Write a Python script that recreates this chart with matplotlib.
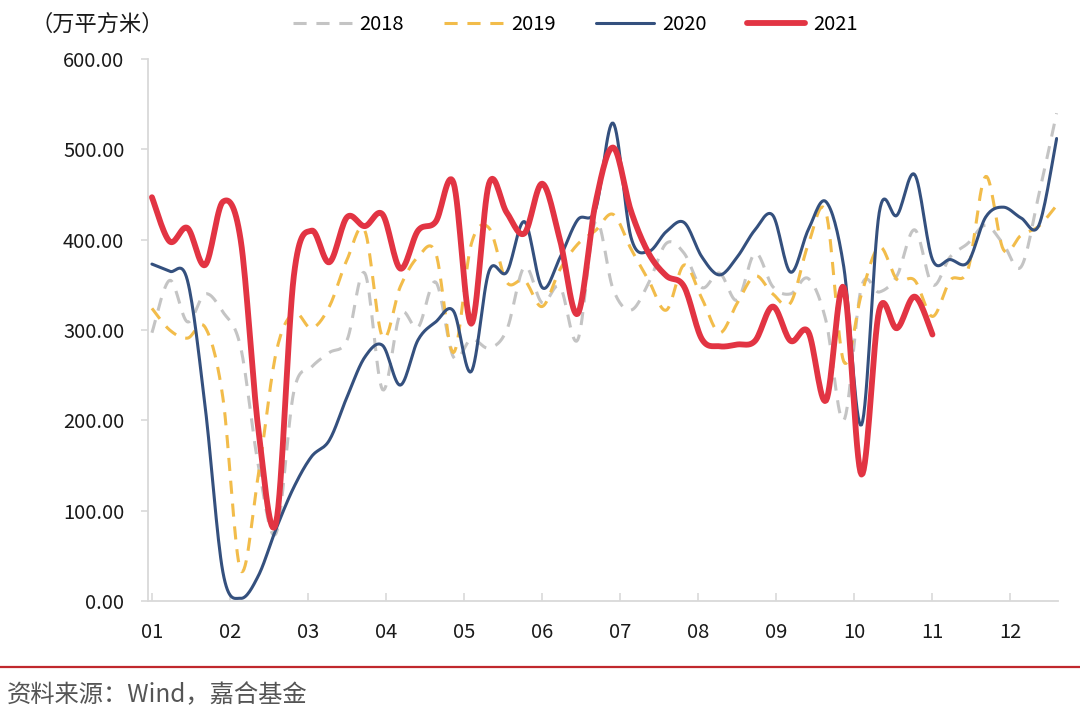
import numpy as np
import matplotlib
matplotlib.use("Agg")
import matplotlib.pyplot as plt

plt.rcParams['font.family'] = ['Noto Sans CJK SC', 'DejaVu Sans']

# weekly values, 万平方米
months = ['01', '02', '03', '04', '05', '06', '07', '08', '09', '10', '11', '12']
week_step = 0.2273  # one week, in month units of the x axis

s2018 = [297, 355, 309, 340, 320, 281, 150, 75, 232, 259, 275, 289, 363, 234, 318, 303,
         353, 270, 290, 280, 300, 370, 330, 348, 289, 420, 345, 322, 352, 396, 385, 347,
         363, 333, 385, 348, 340, 357, 310, 200, 348, 342, 360, 411, 350, 381, 396, 416,
         395, 370, 450, 540]
s2019 = [324, 300, 291, 303, 225, 34, 140, 275, 319, 302, 326, 378, 410, 292, 348, 381,
         385, 275, 395, 413, 353, 355, 326, 367, 395, 410, 428, 390, 355, 322, 372, 335,
         297, 330, 360, 340, 330, 395, 430, 265, 340, 392, 356, 355, 315, 355, 367, 470,
         389, 405, 415, 438]
s2020 = [373, 365, 355, 215, 32, 3, 28, 80, 126, 160, 178, 226, 270, 283, 239, 289,
         309, 321, 254, 365, 364, 420, 347, 380, 422, 433, 529, 403, 387, 409, 419, 381,
         361, 381, 411, 427, 364, 411, 442, 370, 195, 430, 427, 472, 378, 378, 375, 425,
         436, 424, 416, 512]
s2021 = [447, 398, 413, 372, 442, 400, 190, 87, 360, 410, 375, 425, 415, 428, 368, 410,
         420, 463, 307, 462, 430, 407, 462, 400, 318, 440, 502, 432, 385, 360, 348, 290,
         282, 284, 288, 326, 288, 298, 222, 347, 140, 322, 302, 337, 295]

series = [
    ('2018', s2018, '#C4C4C4', (0, (4.3, 3.2)), 2.2),
    ('2019', s2019, '#F2BC4A', (0, (4.3, 3.2)), 2.2),
    ('2020', s2020, '#34507E', '-', 2.2),
    ('2021', s2021, '#E23443', '-', 4.2),
]


def smooth(x, y, n=16):
    # Excel-style smoothed line (cubic Bezier through every point)
    x = np.asarray(x, float)
    y = np.asarray(y, float)
    px = np.concatenate([[x[0]], x, [x[-1]]])
    py = np.concatenate([[y[0]], y, [y[-1]]])
    t = np.linspace(0, 1, n, endpoint=False)[:, None]
    xs, ys = [], []
    for i in range(len(x) - 1):
        p0 = np.array([px[i], py[i]])
        p1 = np.array([px[i + 1], py[i + 1]])
        p2 = np.array([px[i + 2], py[i + 2]])
        p3 = np.array([px[i + 3], py[i + 3]])
        c1 = p1 + (p2 - p0) / 6
        c2 = p2 - (p3 - p1) / 6
        b = ((1 - t) ** 3) * p1 + 3 * ((1 - t) ** 2) * t * c1 + 3 * (1 - t) * t ** 2 * c2 + t ** 3 * p2
        xs.append(b[:, 0])
        ys.append(b[:, 1])
    xs.append([x[-1]])
    ys.append([y[-1]])
    return np.concatenate(xs), np.concatenate(ys)


fig = plt.figure(figsize=(10.8, 7.25), dpi=100)
ax = fig.add_axes([0.137, 0.171, 0.843, 0.7476])

for name, vals, color, ls, lw in series:
    x = 1 + np.arange(len(vals)) * week_step
    sx, sy = smooth(x, vals)
    ax.plot(sx, sy, color=color, linestyle=ls, linewidth=lw, label=name,
            solid_capstyle='round', dash_capstyle='butt')

ax.set_xlim(0.949, 12.615)
ax.set_ylim(0, 600)
ax.set_xticks(range(1, 13))
ax.set_xticklabels(months)
ax.set_yticks(range(0, 601, 100))
ax.set_yticklabels(['%.2f' % v for v in range(0, 601, 100)])

for side in ['top', 'right']:
    ax.spines[side].set_visible(False)
for side in ['left', 'bottom']:
    ax.spines[side].set_color('#D9D9D9')
    ax.spines[side].set_linewidth(1.3)

ax.tick_params(axis='x', direction='in', length=6, width=1.2, color='#D9D9D9',
               labelsize=14.5, labelcolor='#1A1A1A', pad=15)
ax.tick_params(axis='y', direction='out', length=5, width=1.2, color='#D9D9D9',
               labelsize=14.5, labelcolor='#1A1A1A', pad=12)

fig.legend(loc='center', bbox_to_anchor=(0.533, 0.966), ncol=4, frameon=False,
           fontsize=14.5, handlelength=2.9, handletextpad=0.4, columnspacing=2.0)

fig.text(0.028, 0.966, '（万平方米）', fontsize=16, color='#1A1A1A', va='center', ha='left')

fig.add_artist(plt.Line2D([0, 1], [1 - 667 / 725, 1 - 667 / 725], color='#C0282D', linewidth=1.6))
fig.text(0.006, 1 - 695 / 725, '资料来源：Wind，嘉合基金', fontsize=17.5, color='#555555',
         va='center', ha='left')

fig.savefig('out.png', dpi=100)
